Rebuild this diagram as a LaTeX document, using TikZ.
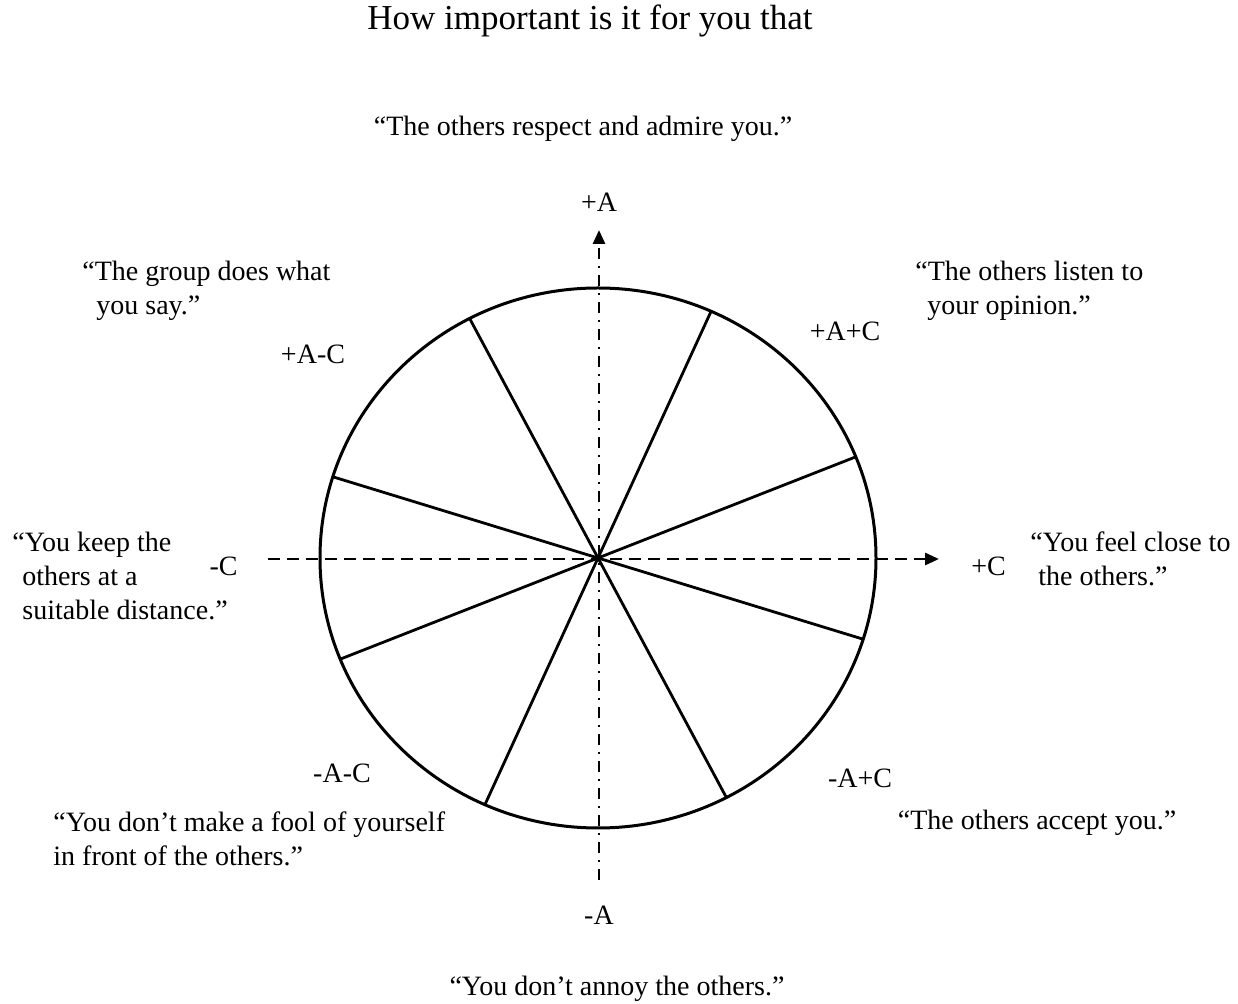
\documentclass[tikz,border=0pt]{standalone}
\usepackage{fontspec}
\setmainfont{Liberation Serif}
\usetikzlibrary{arrows.meta,positioning,calc}

\begin{document}
\begin{tikzpicture}[
  x=0.5pt, y=-0.5pt,
  font=\fontsize{14}{17}\selectfont, >={Triangle[length=7pt,width=6pt]},
  quote/.style={align=left, anchor=west, inner sep=0pt},
  octant/.style={inner sep=0pt},
  pole/.style={inner sep=0pt},
  rim/.style={line width=1.5pt},
  spoke/.style={line width=1.4pt},
  axis/.style={line width=1.4pt, ->},
]
\useasboundingbox (0,0) rectangle (1238,1004);

% wheel
\coordinate (o) at (598,558);
\draw[rim] (o) ellipse [x radius=278, y radius=270];
\foreach \a in {-22,-66,-117.5,-162.5}
  \draw[spoke] ($(o)+(\a:278 and 270)$) -- ($(o)+(\a+180:278 and 270)$);

% axes
\coordinate (cw) at (268,559);
\coordinate (ce) at (939,559);
\coordinate (cs) at (599,880);
\coordinate (cn) at (599,230);
\draw[axis, dash pattern=on 6pt off 3.5pt] (cw) -- (ce);
\draw[axis, dash pattern=on 5.5pt off 3.5pt on 1pt off 3.5pt] (cs) -- (cn);

\node[pole, above=9pt of cn] (lblA) {+A};
\node[pole, below=13pt of cs] (lblnA) {-A};
\node[pole, left=15pt of cw, yshift=-3.5pt] (lblnC) {-C};
\node[pole, right=16pt of ce, yshift=-3.5pt] (lblC) {+C};

\node[octant] (lblAC)   at (845,331) {+A+C};
\node[octant] (lblAnC)  at (313,354) {+A-C};
\node[octant] (lblnAnC) at (342,773) {-A-C};
\node[octant] (lblnAC)  at (860,778) {-A+C};

% statements
\node[font=\fontsize{17.5}{20}\selectfont] (title) at (590,21) {How important is it for you that};
\node (qTop)    at (583,129) {“The others respect and admire you.”};
\node (qBottom) at (617,989) {“You don’t annoy the others.”};
\node[quote] (qTL)   at (82,291)   {“The group does what\\\hspace*{7pt}you say.”};
\node[quote] (qTR)   at (915,291)  {“The others listen to\\\hspace*{6pt}your opinion.”};
\node[quote] (qLeft) at (12,576)   {“You keep the\\\hspace*{5pt}others at a\\\hspace*{5pt}suitable distance.”};
\node[quote] (qRight) at (1030,559) {“You feel close to\\\hspace*{4pt}the others.”};
\node[quote] (qBL)   at (53,839)   {“You don’t make a fool of yourself\\in front of the others.”};
\node (qBR) at (1037,823) {“The others accept you.”};
\end{tikzpicture}
\end{document}
